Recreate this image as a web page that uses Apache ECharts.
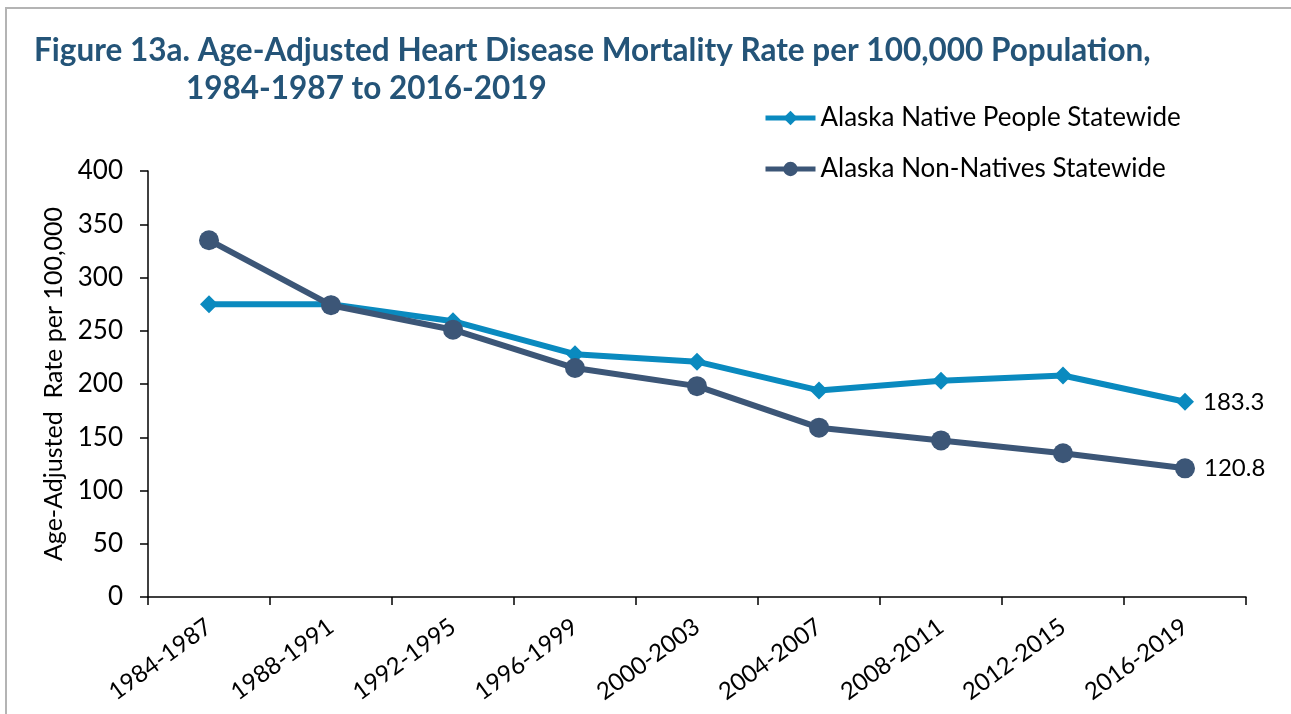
<!DOCTYPE html>
<html>
<head>
<meta charset="utf-8">
<script src="https://cdn.jsdelivr.net/npm/echarts@6/dist/echarts.min.js"></script>
<style>
  html, body { margin: 0; padding: 0; background: #fff; }
  #Chart { width: 1291px; height: 714px; }
</style>
</head>
<body>
<div id="Chart"></div>
<script>
const periods = ['1984-1987', '1988-1991', '1992-1995', '1996-1999', '2000-2003',
  '2004-2007', '2008-2011', '2012-2015', '2016-2019']
const nativeRates = [275, 275, 259, 228, 221, 194, 203, 208, 183.3]
const nonNativeRates = [335, 274, 251, 215, 198, 159, 147, 135, 120.8]
const yTicks = [0, 50, 100, 150, 200, 250, 300, 350, 400]

const labelFont = 'Lato, "Open Sans", sans-serif'

const chart = echarts.init(document.getElementById('Chart'))

// label only the last point of a series
const endLabel = {
  show: true,
  position: 'right',
  distance: 9,
  color: '#000',
  fontSize: 24,
  fontFamily: labelFont,
  formatter: p => (p.dataIndex === periods.length - 1 ? p.value.toFixed(1) : '')
}

const titleStyle = { color: '#245478', fontSize: 31.5, fontWeight: 'bold', fontFamily: labelFont }

const option = {
  backgroundColor: '#fff',
  animation: false,
  graphic: [{
    type: 'rect',
    shape: { x: 6, y: 8, width: 1300, height: 720 },
    style: { fill: 'none', stroke: '#b4b4b4', lineWidth: 2 },
    silent: true
  }],
  title: [
    { text: 'Figure 13a. Age-Adjusted Heart Disease Mortality Rate per 100,000 Population,', left: 29, top: 30, textStyle: titleStyle },
    { text: '1984-1987 to 2016-2019', left: 181, top: 68, textStyle: titleStyle }
  ],
  legend: {
    orient: 'vertical',
    left: 758,
    top: 100,
    itemWidth: 50,
    itemHeight: 18,
    itemGap: 25,
    lineStyle: { width: 5 },
    textStyle: { color: '#000', fontSize: 26, fontFamily: labelFont, padding: [0, 0, 0, 0] },
    data: ['Alaska Native People Statewide', 'Alaska Non-Natives Statewide']
  },
  grid: {
    left: 148,
    right: 45,
    top: 171,
    bottom: 117,
    containLabel: false
  },
  xAxis: {
    type: 'category',
    boundaryGap: true,
    data: periods,
    axisLine: { show: true, lineStyle: { color: '#000', width: 1.5 } },
    axisTick: { show: true, length: 8, lineStyle: { color: '#000', width: 1.5 } },
    axisLabel: {
      rotate: 36,
      interval: 0,
      color: '#000',
      fontSize: 24,
      fontFamily: labelFont,
      margin: 27
    }
  },
  yAxis: {
    type: 'value',
    min: yTicks[0],
    max: yTicks[yTicks.length - 1],
    interval: 50,
    name: 'Age-Adjusted  Rate per 100,000',
    nameLocation: 'middle',
    nameGap: 78,
    nameTextStyle: { color: '#000', fontSize: 25, fontFamily: labelFont },
    axisLine: { show: true, lineStyle: { color: '#000', width: 1.5 } },
    axisTick: { show: true, length: 8, lineStyle: { color: '#000', width: 1.5 } },
    axisLabel: { color: '#000', fontSize: 26, fontFamily: labelFont, margin: 25 },
    splitLine: { show: false }
  },
  series: [
    {
      name: 'Alaska Native People Statewide',
      type: 'line',
      data: nativeRates,
      color: '#0a8abf',
      symbol: 'diamond',
      symbolSize: 18,
      lineStyle: { width: 6 },
      label: endLabel
    },
    {
      name: 'Alaska Non-Natives Statewide',
      type: 'line',
      data: nonNativeRates,
      color: '#3c5677',
      symbol: 'circle',
      symbolSize: 20,
      lineStyle: { width: 6 },
      label: endLabel
    }
  ]
}
chart.setOption(option)
</script>
</body>
</html>
